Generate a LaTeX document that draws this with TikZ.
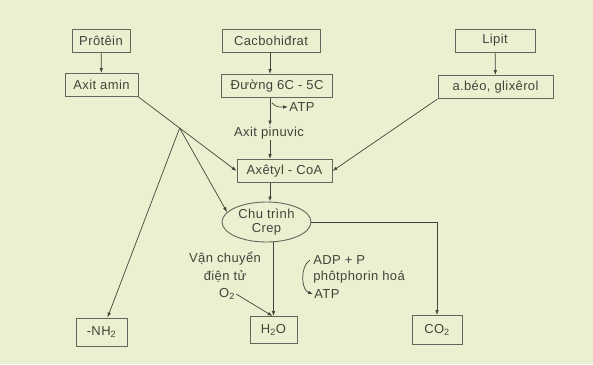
\documentclass[tikz,border=0pt]{standalone}
\usepackage{fontspec}
\setsansfont{Liberation Sans}[LetterSpace=3]
\usetikzlibrary{arrows.meta,shapes.geometric,calc}

\definecolor{paper}{RGB}{234,241,208}
\definecolor{ink}{RGB}{66,68,60}
\definecolor{rim}{RGB}{100,103,92}

\tikzset{
  box/.style={draw=rim, line width=0.9pt, minimum height=23pt, inner sep=2pt},
  txt/.style={inner sep=1pt},
  cycle shape/.style={ellipse, draw=rim, line width=0.9pt, minimum width=89pt,
                      minimum height=40pt, inner sep=0pt, align=center}
}

\begin{document}
\begin{tikzpicture}[x=1pt, y=-1pt, >={Latex[length=5pt,width=3.5pt]},
    font=\sffamily\fontsize{13}{15}\selectfont, text=ink, draw=ink, line width=0.7pt]

        % ==========================================
        % 0. Sfondo
        % ==========================================
        \useasboundingbox (0,0) rectangle (593,364);
        \fill[paper] (0,0) rectangle (593,364);

        % ==========================================
        % 1. RIGA SUPERIORE: sostanze di partenza
        % ==========================================
        \node[box, minimum width=58pt] (protein) at (101,40.5) {Prôtêin};
        \node[box, minimum width=98pt] (cacbo) at (271,40.5) {Cacbohiđrat};
        \node[box, minimum width=80pt] (lipit) at (495,40.5) {Lipit};

        % Prodotti della scissione
        \node[box, minimum width=73pt] (amin) at (101.5,85) {Axit amin};
        \node[box, minimum width=111pt] (duong) at (277,86) {Đường 6C - 5C};
        \node[box, minimum width=115pt] (abeo) at (495.5,87) {a.béo, glixêrol};

        \draw[->] (protein) -- (amin);
        \draw[->] (cacbo.south -| 270,0) -- (duong.north -| 270,0);
        \draw[->] (lipit) -- (abeo);

        % ==========================================
        % 2. COLONNA CENTRALE: glicolisi
        % ==========================================
        \node[txt] (atpa) at (302,107) {ATP};
        \node[txt] (pinuvic) at (269,133) {Axit pinuvic};
        \node[box, minimum width=95pt] (axetyl) at (284.5,171) {Axêtyl - CoA};

        \draw[->] (duong.south -| 270,0) -- (pinuvic.north -| 270,0);
        \draw[->] ($(duong.south -| 270,0)+(2,5)$) to[out=-50,in=180] (atpa.west);
        \draw[->] (pinuvic.south -| 270,0) -- (axetyl.north -| 270,0);

        % Ciclo di Krebs
        \node[cycle shape] (crep) at (266.5,222) {Chu trình\\[-1pt]Crep};
        \draw[->] (axetyl.south -| 270,0) -- (crep.north -| 270,0);

        % Ramo dagli amminoacidi e dai grassi
        \coordinate (br) at ($(amin.south east)!0.42!(axetyl.west)$);
        \draw (amin.south east) -- (br);
        \draw[->] (br) -- (axetyl.west);
        \draw[->] (br) -- (crep.166);
        \draw[->] (abeo.south west) -- (axetyl.east);

        % ==========================================
        % 3. RIGA INFERIORE: prodotti finali
        % ==========================================
        \node[box, minimum width=51pt, minimum height=28pt] (nh2) at (101.5,332) {-NH\textsubscript{2}};
        \node[box, minimum width=47pt, minimum height=27pt] (h2o) at (273.5,330) {H\textsubscript{2}O};
        \node[box, minimum width=50pt, minimum height=29pt] (co2) at (437,330) {CO\textsubscript{2}};

        \draw[->] (br) -- ([xshift=6pt]nh2.north);
        \draw[->] (h2o.north |- crep.south) -- (h2o.north);
        \draw[->] (crep.east) -| (co2.north);

        % Catena di trasporto degli elettroni
        \node[txt] (vc1) at (225,259) {Vận chuyển};
        \node[txt] (vc2) at (225,277) {điện tử};
        \node[txt] (o2) at (227,294) {O\textsubscript{2}};
        \draw[->] (o2.east) -- ([xshift=-1pt]h2o.north);

        % Fosforilazione
        \node[txt, anchor=west] (adp) at (312,260) {ADP + P};
        \node[txt, anchor=west] (phot) at (312,277) {phôtphorin hoá};
        \node[txt, anchor=west] (atpb) at (313,294) {ATP};
        \draw[->] ([xshift=-2pt]adp.west) .. controls +(-10,6) and +(-12,-4) .. (atpb.west);

    \end{tikzpicture}
\end{document}
